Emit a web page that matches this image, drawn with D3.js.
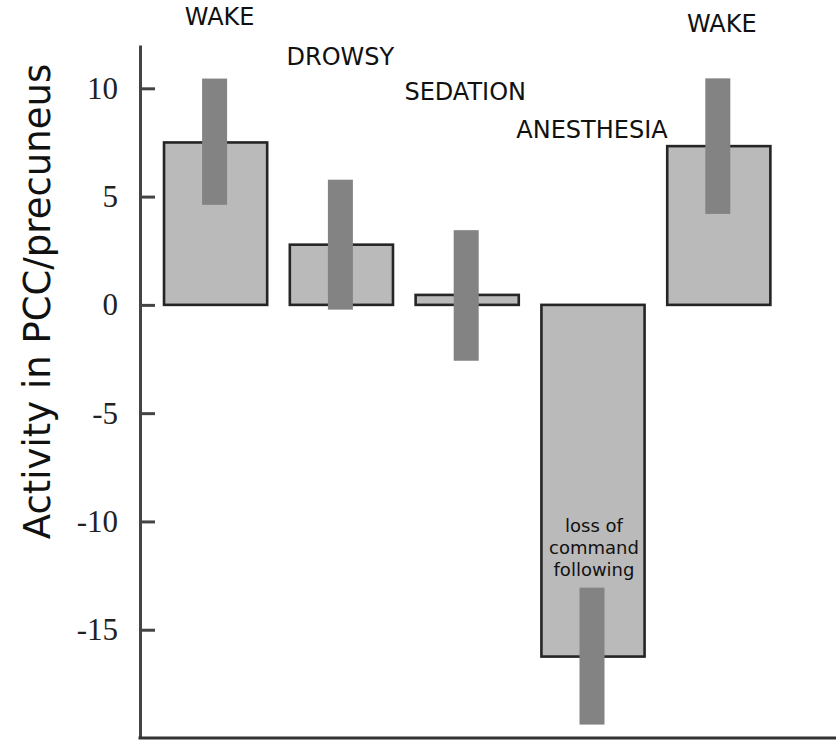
<!DOCTYPE html>
<html>
<head>
<meta charset="utf-8">
<script src="https://cdn.jsdelivr.net/npm/d3@7"></script>
<style>
  html, body { margin: 0; padding: 0; background: #fff; }
  svg { display: block; }
</style>
</head>
<body>
<svg id="chart" width="839" height="740"></svg>
<script>
// ---- data ----
const categories = ["WAKE", "DROWSY", "SEDATION", "ANESTHESIA", "WAKE"];
const values = [7.5, 2.78, 0.46, -16.24, 7.33];
const errorHigh = [10.45, 5.78, 3.45, -13.06, 10.46];
const errorLow = [4.62, -0.22, -2.58, -19.38, 4.2];
const yTicks = [10, 5, 0, -5, -10, -15];
const yTitle = "Activity in PCC/precuneus";
const annotationLines = ["loss of", "command", "following"];
const annotationIndex = 3;

// ---- layout ----
const svg = d3.select("#chart");
const axisX = 140;
const y = d3.scaleLinear().domain([-20, 12]).range([738, 45]);
const x = d3.scaleBand()
  .domain(d3.range(categories.length))
  .range([152.7, 781.7])
  .paddingInner(0.18)
  .paddingOuter(0.09);

const labelBaselines = [25, 65, 100, 138, 32];
const labelOffsets = [4, -1, -2, -1, 3];

// bars
svg.append("g").selectAll("rect")
  .data(values)
  .join("rect")
  .attr("x", (d, i) => x(i))
  .attr("width", x.bandwidth())
  .attr("y", d => y(Math.max(0, d)))
  .attr("height", d => Math.abs(y(d) - y(0)))
  .attr("fill", "#bababa")
  .attr("stroke", "#252525")
  .attr("stroke-width", 2.6);

// error bars
const errW = 25;
svg.append("g").selectAll("rect")
  .data(values)
  .join("rect")
  .attr("x", (d, i) => x(i) + x.bandwidth() / 2 - 1 - errW / 2)
  .attr("width", errW)
  .attr("y", (d, i) => y(errorHigh[i]))
  .attr("height", (d, i) => y(errorLow[i]) - y(errorHigh[i]))
  .attr("fill", "#838383");

// y axis
const yAxis = d3.axisLeft(y)
  .tickValues(yTicks)
  .tickSizeInner(-15)
  .tickSizeOuter(0)
  .tickPadding(22)
  .tickFormat(d => String(d));

const gy = svg.append("g")
  .attr("transform", `translate(${axisX},0)`)
  .call(yAxis);
gy.select(".domain").attr("stroke", "#444").attr("stroke-width", 3);
gy.selectAll(".tick line").attr("stroke", "#444").attr("stroke-width", 3);
gy.selectAll(".tick text")
  .attr("fill", "#222")
  .style("font-family", "'Liberation Serif', 'Times New Roman', serif")
  .style("font-size", "31px");

// bottom axis line
svg.append("line")
  .attr("x1", axisX - 1.5).attr("x2", 836)
  .attr("y1", y(-20)).attr("y2", y(-20))
  .attr("stroke", "#333").attr("stroke-width", 3);

// y title
svg.append("text")
  .attr("transform", `translate(50,${(y(12) + y(-20)) / 2 - 90}) rotate(-90)`)
  .attr("text-anchor", "middle")
  .style("font-family", "'DejaVu Sans', Verdana, sans-serif")
  .style("font-size", "37px")
  .attr("fill", "#111")
  .text(yTitle);

// category labels
svg.append("g").selectAll("text")
  .data(categories)
  .join("text")
  .attr("x", (d, i) => x(i) + x.bandwidth() / 2 + labelOffsets[i])
  .attr("y", (d, i) => labelBaselines[i])
  .attr("text-anchor", "middle")
  .style("font-family", "'DejaVu Sans', Verdana, sans-serif")
  .style("font-size", "24px")
  .attr("fill", "#111")
  .text(d => d);

// annotation
svg.append("g").selectAll("text")
  .data(annotationLines)
  .join("text")
  .attr("x", x(annotationIndex) + x.bandwidth() / 2 + 1)
  .attr("y", (d, i) => 532 + i * 22)
  .attr("text-anchor", "middle")
  .style("font-family", "'DejaVu Sans', Verdana, sans-serif")
  .style("font-size", "18px")
  .attr("fill", "#111")
  .text(d => d);
</script>
</body>
</html>
